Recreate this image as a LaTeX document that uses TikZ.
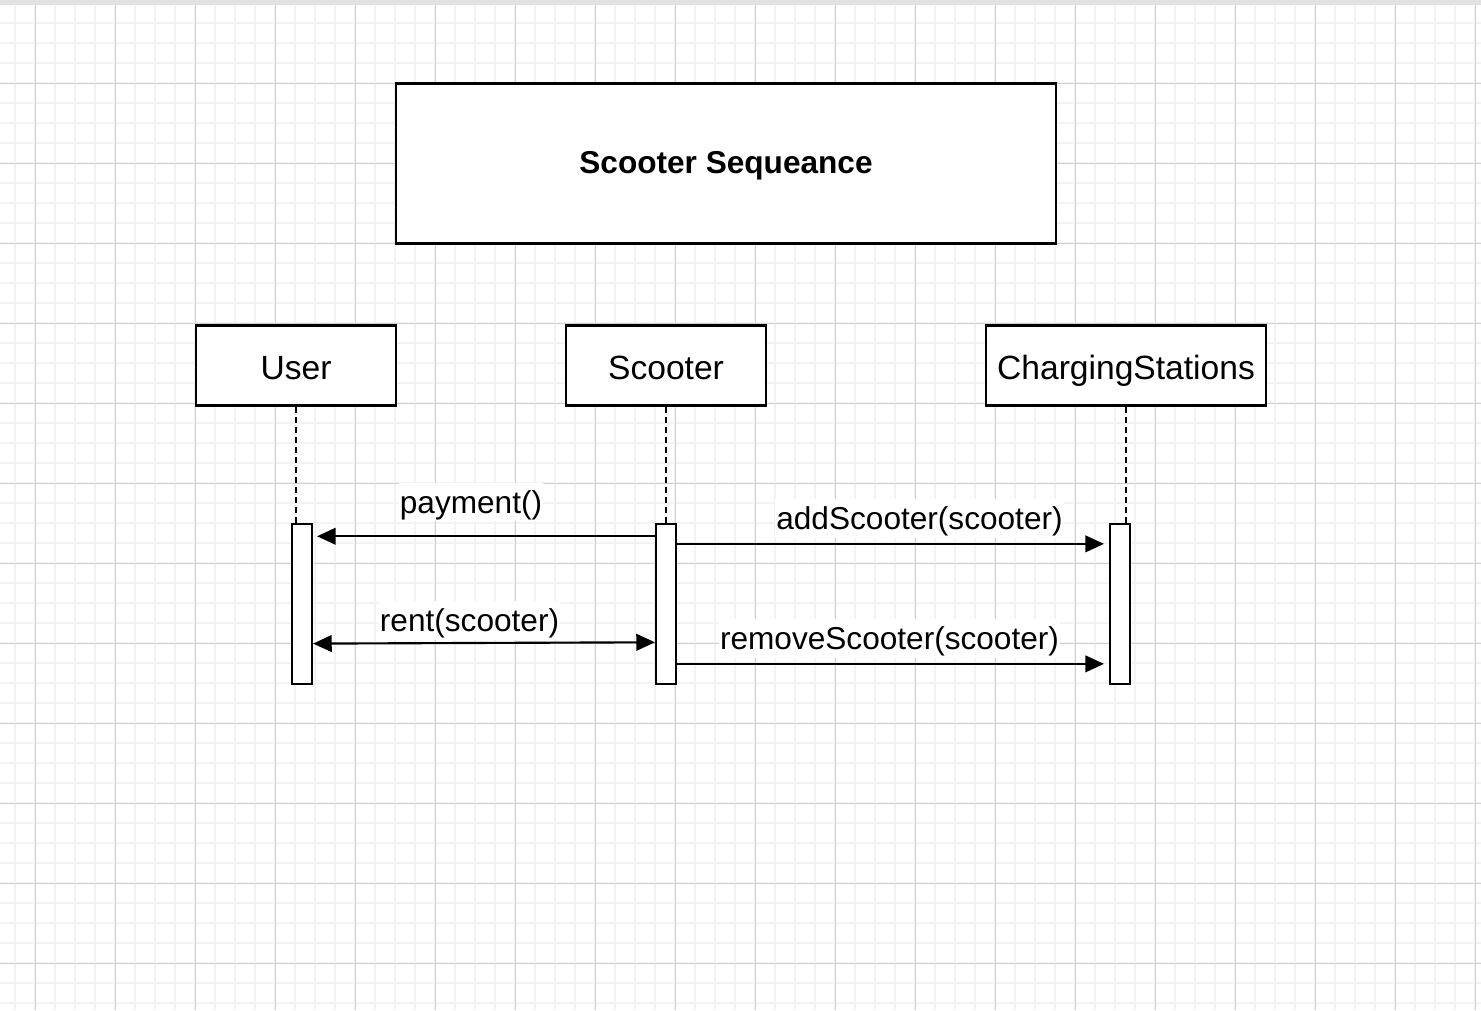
\documentclass[tikz,border=0pt]{standalone}
\usepackage{fontspec}
\setmainfont{Liberation Sans}
\usetikzlibrary{arrows.meta}

\definecolor{gridmajor}{RGB}{208,208,208}
\definecolor{gridminor}{RGB}{243,243,243}
\definecolor{topbar}{RGB}{226,226,226}

\newcommand{\seqfont}{\fontsize{23.7}{28}\selectfont}
\newcommand{\headfont}{\fontsize{25.2}{30}\selectfont}

\tikzset{every picture/.style={line width=0.75pt}}
\tikzset{
  actor/.style={draw, line width=1.6pt, fill=white, minimum width=150pt, minimum height=60pt,
    inner sep=0pt, font=\headfont, text height=23pt, text depth=1.5pt},
  titlebox/.style={actor, minimum width=495pt, minimum height=120pt, font=\seqfont\bfseries,
    text height=22pt, text depth=6.5pt},
  actbar/.style={draw, line width=1.6pt, fill=white, minimum width=15pt, minimum height=120pt, inner sep=0pt},
  lifeline/.style={line width=1.6pt, dash pattern=on 4.5pt off 3pt},
  msg/.style={line width=1.6pt, -{Triangle[length=14pt,width=12.5pt]}},
  msglabel/.style={fill=white, inner xsep=1pt, inner ysep=2pt, font=\seqfont, text height=20.8pt, text depth=4.2pt}
}

\begin{document}
\begin{tikzpicture}[x=0.75pt,y=0.75pt,yscale=-1,xscale=1]
    \useasboundingbox (0,0) rectangle (1481,1010);

    %Background and grid
    \fill [white] (0,0) rectangle (1481,1010);
    \fill [topbar] (0,0) rectangle (1481,4.5);
    \foreach \gx in {15,35,...,1475} \draw [gridminor, line width=1.5pt] (\gx,4.5) -- (\gx,1010);
    \foreach \gy in {23.3,43.3,...,1003.3} \draw [gridminor, line width=1.5pt] (0,\gy) -- (1481,\gy);
    \foreach \gx in {35,115,...,1475} \draw [gridmajor] (\gx,4.5) -- (\gx,1010);
    \foreach \gy in {83.3,163.3,...,963.3} \draw [gridmajor] (0,\gy) -- (1481,\gy);

    %Shape: Rectangle (title)
    \node [titlebox] (title) at (726,163.5) {Scooter Sequeance};

    %Shape: Rectangle (lifeline heads)
    \node [actor] (user) at (296,365.5) {User};
    \node [actor] (scooter) at (666,365.5) {Scooter};
    \node [actor, minimum width=210pt] (stations) at (1126,365.5) {ChargingStations};

    %Shape: Rectangle (activations)
    \node [actbar] (userbar) at (302,604) {};
    \node [actbar] (scooterbar) at (666,604) {};
    \node [actbar] (stationsbar) at (1120,604) {};

    %Straight Lines (lifelines)
    \draw [lifeline] (user.south) -- (user.south |- userbar.north);
    \draw [lifeline] (scooter.south) -- (scooter.south |- scooterbar.north);
    \draw [lifeline] (stations.south) -- (stations.south |- stationsbar.north);

    %Straight Lines (messages)
    \draw [msg] ([yshift=10pt]scooterbar.north west) -- ([xshift=3pt,yshift=10pt]userbar.north east);
    \draw [msg, {Triangle[length=14pt,width=12.5pt]}-{Triangle[length=14pt,width=12.5pt]}] ([yshift=90.5pt]userbar.north east) -- ([yshift=89.5pt]scooterbar.north west);
    \draw [msg] ([yshift=15.7pt]scooterbar.north east) -- ([xshift=-3.75pt,yshift=15.7pt]stationsbar.north west);
    \draw [msg] ([yshift=105.7pt]scooterbar.north east) -- ([xshift=-3.75pt,yshift=105.7pt]stationsbar.north west);

    % Text Node
    \node [msglabel] (payment) at (471,502) {payment()};
    % Text Node
    \node [msglabel] (rent) at (469.5,620.5) {rent(scooter)};
    % Text Node
    \node [msglabel] (add) at (919.5,518.5) {addScooter(scooter)};
    % Text Node
    \node [msglabel] (remove) at (889.5,638.5) {removeScooter(scooter)};

\end{tikzpicture}
\end{document}
